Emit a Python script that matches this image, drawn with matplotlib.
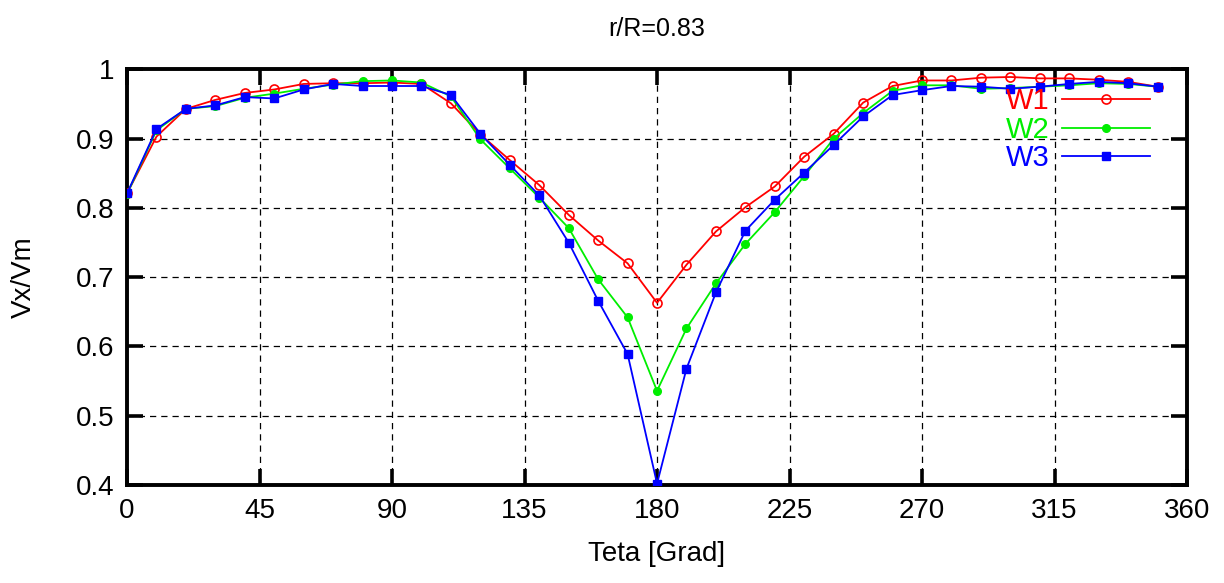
import matplotlib
matplotlib.use("Agg")
import matplotlib.pyplot as plt

plt.rcParams['font.family'] = ['Liberation Sans', 'DejaVu Sans']

teta = [0, 10, 20, 30, 40, 50, 60, 70, 80, 90, 100, 110, 120, 130, 140, 150, 160, 170,
        180, 190, 200, 210, 220, 230, 240, 250, 260, 270, 280, 290, 300, 310, 320, 330, 340, 350]
w1 = [0.821, 0.903, 0.943, 0.956, 0.966, 0.971, 0.979, 0.980, 0.980, 0.981, 0.979, 0.951, 0.906,
      0.869, 0.833, 0.790, 0.753, 0.720, 0.663, 0.718, 0.766, 0.801, 0.831, 0.874, 0.907, 0.952,
      0.976, 0.984, 0.984, 0.988, 0.989, 0.987, 0.987, 0.985, 0.982, 0.975]
w2 = [0.820, 0.912, 0.943, 0.947, 0.959, 0.965, 0.972, 0.978, 0.983, 0.984, 0.981, 0.961, 0.899,
      0.857, 0.815, 0.771, 0.697, 0.642, 0.536, 0.626, 0.691, 0.748, 0.794, 0.846, 0.900, 0.937,
      0.969, 0.977, 0.977, 0.972, 0.973, 0.975, 0.977, 0.980, 0.979, 0.975]
w3 = [0.821, 0.914, 0.943, 0.948, 0.960, 0.958, 0.971, 0.979, 0.976, 0.976, 0.976, 0.963, 0.907,
      0.862, 0.818, 0.750, 0.666, 0.589, 0.402, 0.568, 0.678, 0.767, 0.812, 0.851, 0.891, 0.932,
      0.963, 0.970, 0.976, 0.975, 0.972, 0.975, 0.979, 0.982, 0.980, 0.975]

xticks = [0, 45, 90, 135, 180, 225, 270, 315, 360]
yticks = [0.4, 0.5, 0.6, 0.7, 0.8, 0.9, 1.0]
ytick_labels = ['0.4', '0.5', '0.6', '0.7', '0.8', '0.9', '1']

fig = plt.figure(figsize=(12.24, 5.83), dpi=100)
ax = fig.add_axes([0.1038, 0.168, 0.866, 0.713])

ax.plot(teta, w1, color='#ff0000', lw=1.3, marker='o', ms=6.5, mfc='none', mec='#ff0000',
        mew=1.2, label='W1', zorder=3)
ax.plot(teta, w2, color='#00ee00', lw=1.3, marker='o', ms=5.5, mfc='#00ee00', mec='#00ee00',
        label='W2', zorder=4)
ax.plot(teta, w3, color='#0000ff', lw=1.3, marker='s', ms=5.5, mfc='#0000ff', mec='#0000ff',
        label='W3', zorder=5)

ax.set_xlim(0, 360)
ax.set_ylim(0.4, 1.0)
ax.set_xticks(xticks)
ax.set_yticks(yticks)
ax.set_yticklabels(ytick_labels)
ax.tick_params(direction='in', length=11.5, width=2.6, top=True, right=True,
               labelsize=20)
ax.tick_params(axis='y', pad=9)
ax.tick_params(axis='x', pad=9)
for s in ax.spines.values():
    s.set_linewidth(2.8)
ax.grid(True, color='black', linestyle=(0, (5, 4)), linewidth=0.9)

ax.set_xlabel('Teta [Grad]', fontsize=20)
ax.xaxis.set_label_coords(0.5, -0.135)
ax.set_ylabel('Vx/Vm', fontsize=20)
ax.yaxis.set_label_coords(-0.085, 0.5)
ax.set_title('r/R=0.83', fontsize=18, pad=24)

leg = ax.legend(loc='upper right', bbox_to_anchor=(0.976, 0.985), frameon=False,
                markerfirst=False, labelcolor='linecolor', fontsize=21,
                handlelength=3.0, handletextpad=0.45, labelspacing=0.02,
                borderaxespad=0.0)
for t in leg.get_texts():
    t.set_ha('right')

fig.savefig('out.png', dpi=100)
